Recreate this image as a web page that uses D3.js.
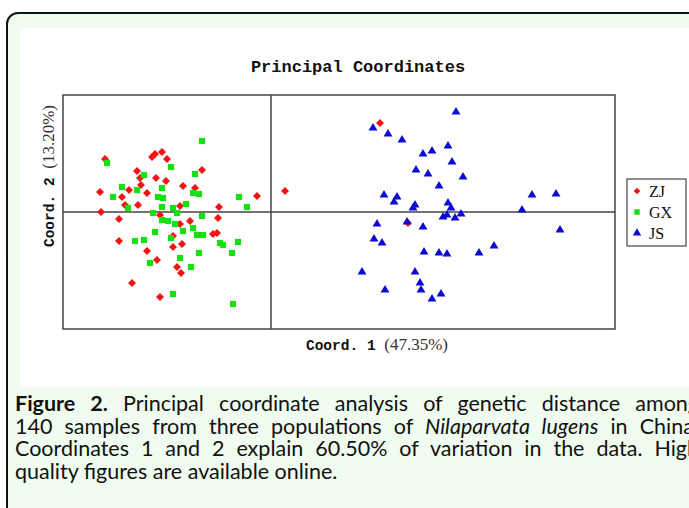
<!DOCTYPE html>
<html>
<head>
<meta charset="utf-8">
<script src="https://cdn.jsdelivr.net/npm/d3@7"></script>
<style>
  body { margin: 0; }
  #wrap { position: relative; width: 689px; height: 508px; overflow: hidden; background: #fff; }
  #wrap svg { position: absolute; left: 0; top: 0; }
  #caption { position: absolute; left: 15px; top: 392px; width: 684px;
             font-family: Lato, "Open Sans", sans-serif; font-size: 21.5px; line-height: 22.5px; color: #111; }
  #caption .ln { text-align: justify; text-align-last: justify; white-space: nowrap; }
  #caption .last { text-align: left; text-align-last: left; }
</style>
</head>
<body>
<div id="wrap">
  <div id="caption"></div>
</div>
<script>
// groups and their colours
var groups = ["ZJ", "GX", "JS"];
var colors = ["#f01414", "#14e014", "#0a0ad2"];

// Coord. 1 / Coord. 2
var zjX = [-0.332,-0.342,-0.340,-0.304,-0.304,-0.278,-0.298,-0.292,-0.284,-0.268,-0.262,-0.260,-0.266,-0.248,-0.238,-0.232,-0.218,-0.208,-0.230,-0.210,-0.176,-0.152,-0.138,-0.182,-0.222,-0.182,-0.162,-0.196,-0.178,-0.196,-0.248,-0.228,-0.188,-0.180,-0.222,-0.116,-0.108,-0.104,-0.106,-0.028,0.028,0.218,0.274];
var zjY = [0.106,0.040,0.000,-0.014,-0.058,-0.142,0.030,0.014,0.044,0.082,0.068,0.054,0.014,0.038,0.110,0.116,0.120,0.106,0.068,0.062,0.052,0.048,0.084,0.012,-0.006,-0.024,-0.018,-0.048,-0.064,-0.070,-0.078,-0.096,-0.110,-0.122,-0.170,-0.044,-0.042,0.010,-0.012,0.032,0.042,0.178,-0.022];

var gxX = [-0.138,-0.328,-0.200,-0.254,-0.152,-0.298,-0.316,-0.268,-0.218,-0.226,-0.216,-0.156,-0.144,-0.286,-0.218,-0.170,-0.196,-0.236,-0.188,-0.138,-0.218,-0.206,-0.192,-0.176,-0.156,-0.232,-0.200,-0.148,-0.136,-0.272,-0.254,-0.102,-0.096,-0.066,-0.078,-0.144,-0.182,-0.242,-0.160,-0.064,-0.048,-0.196,-0.076];
var gxY = [0.142,0.098,0.090,0.074,0.076,0.050,0.030,0.044,0.048,0.030,0.028,0.038,0.036,0.008,0.010,0.016,0.008,-0.002,-0.002,-0.008,-0.016,-0.018,-0.024,-0.038,-0.032,-0.040,-0.052,-0.046,-0.046,-0.058,-0.056,-0.062,-0.066,-0.060,-0.082,-0.082,-0.092,-0.102,-0.110,0.030,0.010,-0.164,-0.184];

var jsX = [0.370,0.204,0.234,0.262,0.354,0.322,0.304,0.362,0.290,0.314,0.384,0.336,0.226,0.252,0.246,0.288,0.284,0.354,0.360,0.522,0.570,0.502,0.344,0.352,0.368,0.380,0.272,0.212,0.304,0.578,0.206,0.222,0.446,0.416,0.306,0.336,0.352,0.182,0.288,0.298,0.300,0.228,0.340,0.322];
var jsY = [0.200,0.168,0.156,0.144,0.132,0.122,0.116,0.100,0.084,0.076,0.070,0.052,0.034,0.030,0.020,0.014,0.008,0.018,0.008,0.034,0.036,0.004,-0.010,-0.006,-0.012,-0.004,-0.020,-0.024,-0.030,-0.036,-0.054,-0.062,-0.068,-0.082,-0.080,-0.082,-0.084,-0.120,-0.120,-0.142,-0.156,-0.156,-0.164,-0.174];

var xDomain = [-0.416, 0.688];
var yDomain = [-0.234, 0.234];

var width = 689, height = 508;

var svg = d3.select("#wrap").insert("svg", "#caption")
    .attr("width", width)
    .attr("height", height);

// page background and rounded border
svg.append("rect")
    .attr("x", 7).attr("y", 13)
    .attr("width", 720).attr("height", 540)
    .attr("rx", 11)
    .attr("fill", "#effcef")
    .attr("stroke", "#111")
    .attr("stroke-width", 2);

// white figure area
svg.append("rect")
    .attr("x", 20).attr("y", 28)
    .attr("width", 700).attr("height", 359)
    .attr("fill", "#fff");

var x = d3.scaleLinear().domain(xDomain).range([63, 615]);
var y = d3.scaleLinear().domain(yDomain).range([329, 95]);

svg.append("rect")
    .attr("x", x(xDomain[0])).attr("y", y(yDomain[1]))
    .attr("width", x(xDomain[1]) - x(xDomain[0]))
    .attr("height", y(yDomain[0]) - y(yDomain[1]))
    .attr("fill", "#fff")
    .attr("stroke", "#444")
    .attr("stroke-width", 1.5);

svg.append("line")
    .attr("x1", x(0)).attr("x2", x(0))
    .attr("y1", y(yDomain[0])).attr("y2", y(yDomain[1]))
    .attr("stroke", "#444").attr("stroke-width", 1.5);

svg.append("line")
    .attr("x1", x(xDomain[0])).attr("x2", x(xDomain[1]))
    .attr("y1", y(0)).attr("y2", y(0))
    .attr("stroke", "#444").attr("stroke-width", 1.5);

// marker shapes
var shapes = [
    d3.symbol().type(d3.symbolSquare).size(32),
    d3.symbol().type(d3.symbolSquare).size(38),
    d3.symbol().type(d3.symbolTriangle).size(34)
];
var rotate = [45, 0, 0];

var series = [
    d3.zip(zjX, zjY),
    d3.zip(gxX, gxY),
    d3.zip(jsX, jsY)
];

series.forEach(function(pts, i){
    svg.append("g").selectAll("path")
        .data(pts)
        .enter().append("path")
        .attr("d", shapes[i])
        .attr("transform", function(d){
            return "translate(" + x(d[0]) + "," + y(d[1]) + ") rotate(" + rotate[i] + ")";
        })
        .attr("fill", colors[i]);
});

// title
svg.append("text")
    .attr("x", 358).attr("y", 72)
    .attr("text-anchor", "middle")
    .style("font-family", "'Liberation Mono', monospace")
    .style("font-weight", "bold")
    .style("font-size", "17px")
    .attr("fill", "#111")
    .text("Principal Coordinates");

// axis labels
function axisLabel(num, pct){
    var t = svg.append("text")
        .attr("text-anchor", "middle")
        .attr("fill", "#111");
    t.append("tspan")
        .style("font-family", "'Liberation Mono', monospace")
        .style("font-weight", "bold")
        .style("font-size", "14.5px")
        .text("Coord. " + num + " ");
    t.append("tspan")
        .style("font-family", "'Liberation Serif', serif")
        .style("font-size", "17px")
        .attr("fill", "#333")
        .text("(" + pct + ")");
    return t;
}
axisLabel("1", "47.35%").attr("x", 377).attr("y", 350);
axisLabel("2", "13.20%").attr("transform", "translate(54,176) rotate(-90)");

// legend
var legend = svg.append("g");
legend.append("rect")
    .attr("x", 627).attr("y", 179)
    .attr("width", 59).attr("height", 67)
    .attr("fill", "#fff")
    .attr("stroke", "#444")
    .attr("stroke-width", 1.2);

var legendSize = [22, 30, 30];
groups.forEach(function(g, i){
    var ly = 191 + i * 21;
    legend.append("path")
        .attr("d", d3.symbol().type(i == 2 ? d3.symbolTriangle : d3.symbolSquare).size(legendSize[i]))
        .attr("transform", "translate(637," + ly + ") rotate(" + rotate[i] + ")")
        .attr("fill", colors[i]);
    legend.append("text")
        .attr("x", 649).attr("y", ly + 5.5)
        .style("font-family", "'Liberation Serif', serif")
        .style("font-size", "16px")
        .attr("fill", "#111")
        .text(g);
});

// caption
var cap = d3.select("#caption");
cap.append("div").attr("class", "ln")
    .html("<b>Figure 2.</b> Principal coordinate analysis of genetic distance among");
cap.append("div").attr("class", "ln")
    .html("140 samples from three populations of <i>Nilaparvata lugens</i> in China.");
cap.append("div").attr("class", "ln")
    .html("Coordinates 1 and 2 explain 60.50% of variation in the data. High");
cap.append("div").attr("class", "ln last")
    .html("quality figures are available online.");
</script>
</body>
</html>
